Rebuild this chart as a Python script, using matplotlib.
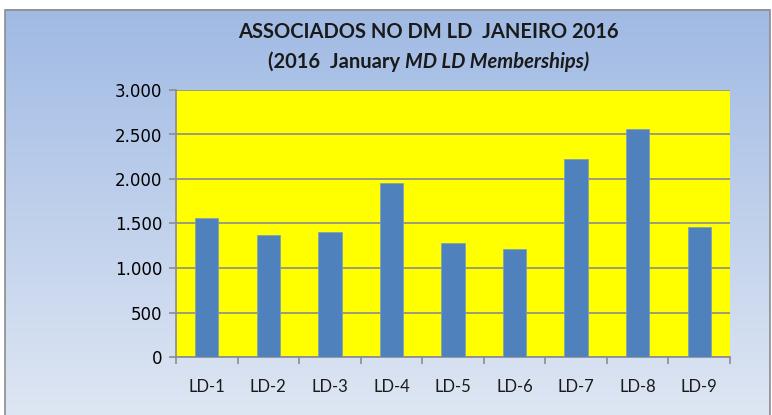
import numpy as np
import matplotlib.pyplot as plt
from matplotlib.patches import Rectangle
from matplotlib.ticker import FuncFormatter
from matplotlib.offsetbox import TextArea, HPacker, AnchoredOffsetbox

# Data
districts = ['LD-1', 'LD-2', 'LD-3', 'LD-4', 'LD-5', 'LD-6', 'LD-7', 'LD-8', 'LD-9']
members = [1560, 1375, 1410, 1950, 1285, 1210, 2220, 2565, 1465]
yticks = [0, 500, 1000, 1500, 2000, 2500, 3000]

fig = plt.figure(figsize=(7.72, 4.15), dpi=100)

# Gradient background with a thin border
bg = fig.add_axes([0, 0, 1, 1], zorder=0)
grad = np.linspace(0, 1, 256).reshape(-1, 1)
top = np.array([160, 186, 228]) / 255
bottom = np.array([222, 230, 243]) / 255
img = top + (bottom - top) * grad[:, :, None]
bg.imshow(img, aspect='auto', extent=[5, 770, 0, 405], origin='upper')
bg.add_patch(Rectangle((5, -5), 765, 410, fill=False, edgecolor='#8c8c8c', lw=1.2))
bg.set_xlim(0, 772)
bg.set_ylim(0, 415)
bg.axis('off')

ax = fig.add_axes([176 / 772, 58 / 415, 554 / 772, 267 / 415], zorder=1)
ax.set_facecolor('#ffff00')
x = np.arange(len(districts))
ax.bar(x, members, width=0.38, color='#4f81bd', edgecolor='#7a9cc8', linewidth=0.5, zorder=3)
ax.set_xlim(-0.5, len(districts) - 0.5)
ax.set_ylim(0, 3000)
ax.set_yticks(yticks)
ax.yaxis.set_major_formatter(FuncFormatter(lambda v, p: f'{int(v):,}'.replace(',', '.')))
ax.grid(axis='y', color='#8c8c8c', lw=1.2, zorder=2)
ax.set_xticks(x)
ax.set_xticklabels(districts, fontsize=12, family='Lato', color='#1a1a1a')
ax.set_xticks(np.arange(-0.5, len(districts)), minor=True)
ax.tick_params(axis='x', which='major', length=0, pad=16)
ax.tick_params(axis='x', which='minor', length=5, color='#8c8c8c', width=1.2)
ax.tick_params(axis='y', length=5, color='#8c8c8c', width=1.2, labelsize=12, pad=5)
for s in ['top', 'right']:
    ax.spines[s].set_visible(False)
for s in ['left', 'bottom']:
    ax.spines[s].set_color('#8c8c8c')
    ax.spines[s].set_linewidth(1.2)

fig.text(0.555, 0.922, 'ASSOCIADOS NO DM LD  JANEIRO 2016', ha='center', va='center',
         fontsize=14.5, fontweight='bold', family='Lato', color='#1a1a1a')

# second title line: plain bold part + bold italic part
tp = dict(fontsize=14.5, fontweight='bold', family='Lato', color='#1a1a1a')
part1 = TextArea('(2016  January ', textprops=tp)
part2 = TextArea('MD LD Memberships)', textprops=dict(tp, style='italic'))
line2 = HPacker(children=[part1, part2], align='baseline', pad=0, sep=0)
box = AnchoredOffsetbox(loc='center', child=line2, frameon=False,
                        bbox_to_anchor=(0.555, 0.852), bbox_transform=fig.transFigure,
                        borderpad=0, pad=0)
fig.add_artist(box)

plt.savefig('out.png', dpi=100)
